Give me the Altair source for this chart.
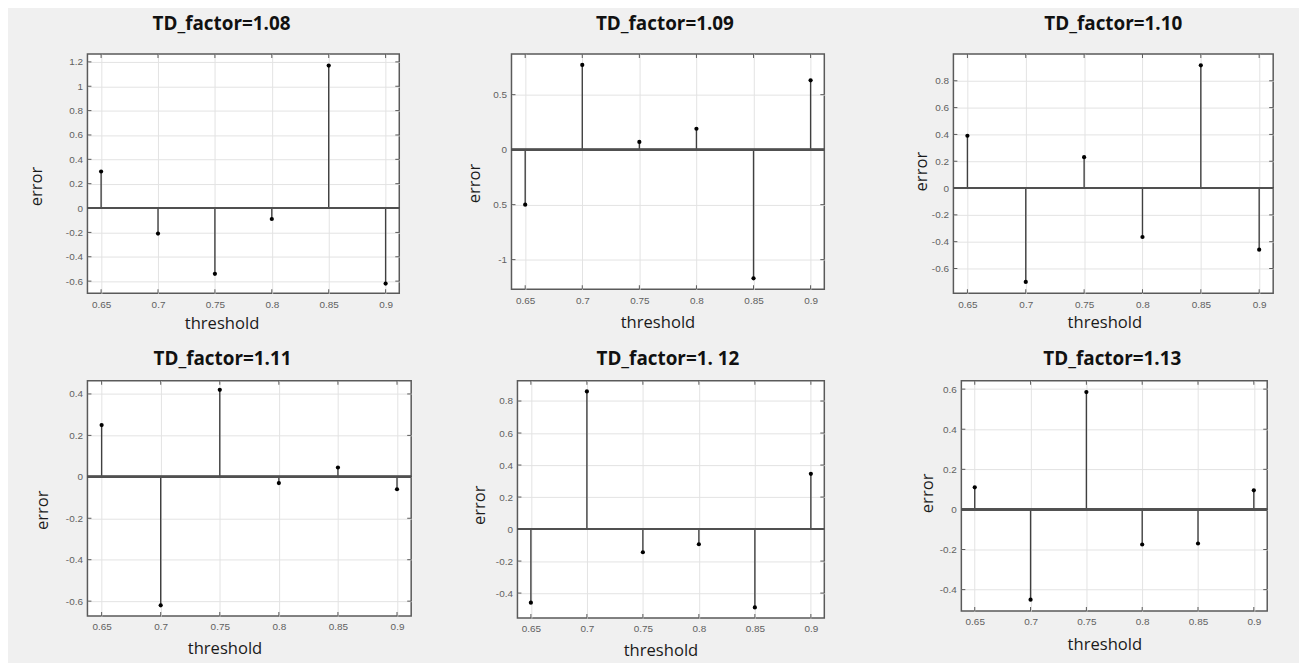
import altair as alt
import pandas as pd

# ---------------- data ----------------
thresholds = [0.65, 0.70, 0.75, 0.80, 0.85, 0.90]
x_tick_values = [0.65, 0.7, 0.75, 0.8, 0.85, 0.9]
x_tick_labels = ["0.65", "0.7", "0.75", "0.8", "0.85", "0.9"]
x_domain = [0.638, 0.912]

titles = ["TD_factor=1.08", "TD_factor=1.09", "TD_factor=1.10",
          "TD_factor=1.11", "TD_factor=1. 12", "TD_factor=1.13"]

err_108 = [0.30, -0.21, -0.54, -0.09, 1.17, -0.62]
err_109 = [-0.50, 0.77, 0.07, 0.19, -1.17, 0.63]
err_110 = [0.39, -0.70, 0.23, -0.365, 0.915, -0.46]
err_111 = [0.25, -0.62, 0.42, -0.03, 0.045, -0.06]
err_112 = [-0.46, 0.86, -0.145, -0.095, -0.49, 0.345]
err_113 = [0.11, -0.45, 0.585, -0.175, -0.17, 0.095]

y_ticks_108 = [-0.6, -0.4, -0.2, 0, 0.2, 0.4, 0.6, 0.8, 1, 1.2]
y_labels_108 = ["-0.6", "-0.4", "-0.2", "0", "0.2", "0.4", "0.6", "0.8", "1", "1.2"]
y_ticks_109 = [-1, -0.5, 0, 0.5]
y_labels_109 = ["-1", "0.5", "0", "0.5"]
y_ticks_110 = [-0.6, -0.4, -0.2, 0, 0.2, 0.4, 0.6, 0.8]
y_labels_110 = ["-0.6", "-0.4", "-0.2", "0", "0.2", "0.4", "0.6", "0.8"]
y_ticks_111 = [-0.6, -0.4, -0.2, 0, 0.2, 0.4]
y_labels_111 = ["-0.6", "-0.4", "-0.2", "0", "0.2", "0.4"]
y_ticks_112 = [-0.4, -0.2, 0, 0.2, 0.4, 0.6, 0.8]
y_labels_112 = ["-0.4", "-0.2", "0", "0.2", "0.4", "0.6", "0.8"]
y_ticks_113 = [-0.4, -0.2, 0, 0.2, 0.4, 0.6]
y_labels_113 = ["-0.4", "-0.2", "0", "0.2", "0.4", "0.6"]

y_domain_108 = [-0.70, 1.265]
y_domain_109 = [-1.27, 0.87]
y_domain_110 = [-0.785, 1.0]
y_domain_111 = [-0.672, 0.464]
y_domain_112 = [-0.556, 0.927]
y_domain_113 = [-0.507, 0.642]

# ---------------- layout (pixels) ----------------
layouts = [
    dict(w=314, h=241, l=79, r=348, b=296, tdx=-22, toff=5, xtx=135, xty=30, ytx=-51, yty=133),
    dict(w=315, h=237, l=77, r=363, b=296, tdx=-3, toff=5, xtx=147, xty=33, ytx=-37, yty=130),
    dict(w=322, h=241, l=80, r=347, b=296, tdx=0, toff=5, xtx=152, xty=29, ytx=-32, yty=118),
    dict(w=326, h=237, l=79, r=348, b=283, tdx=-27, toff=-3, xtx=138, xty=33, ytx=-45, yty=130),
    dict(w=309, h=239, l=83, r=357, b=283, tdx=-3, toff=-3, xtx=144, xty=33, ytx=-38, yty=125),
    dict(w=308, h=232, l=88, r=339, b=283, tdx=-2, toff=-3, xtx=144, xty=34, ytx=-34, yty=113),
]

LABEL_FONT = "Liberation Sans"
TITLE_FONT = "Open Sans"
TICK_LEN = 4


def label_expr(values, labels):
    expr = "''"
    for v, lab in reversed(list(zip(values, labels))):
        expr = f"abs(datum.value - ({v})) < 1e-9 ? '{lab}' : ({expr})"
    return expr


def panel(title, errs, ydom, yvals, ylabs, L):
    df = pd.DataFrame({"threshold": thresholds, "error": errs})
    x_axis = alt.Axis(
        values=x_tick_values, labelExpr=label_expr(x_tick_values, x_tick_labels), tickCount=50,
        grid=True, gridColor="#e3e3e3", gridWidth=1, domain=False, ticks=False, tickSize=0,
        labelFont=LABEL_FONT, labelFontSize=10, labelColor="#606060", labelPadding=6,
        labelFlush=False, labelOverlap=False,
        title="threshold", titleFont=TITLE_FONT, titleFontSize=16.7, titleFontWeight="normal",
        titleColor="#1a1a1a", titleX=L["xtx"], titleY=L["xty"], titleBaseline="middle",
        titleAlign="center", titleAngle=0,
    )
    y_axis = alt.Axis(
        values=yvals, labelExpr=label_expr(yvals, ylabs), tickCount=50,
        grid=True, gridColor="#e3e3e3", gridWidth=1, domain=False, ticks=False, tickSize=0,
        labelFont=LABEL_FONT, labelFontSize=10, labelColor="#606060", labelPadding=5,
        labelFlush=False, labelOverlap=False,
        title="error", titleFont=TITLE_FONT, titleFontSize=16.7, titleFontWeight="normal",
        titleColor="#1a1a1a", titleX=L["ytx"], titleY=L["yty"], titleBaseline="middle",
        titleAlign="center", titleAngle=270,
    )
    x_enc = alt.X("threshold:Q", scale=alt.Scale(domain=x_domain, nice=False, zero=False), axis=x_axis)
    y_enc = alt.Y("error:Q", scale=alt.Scale(domain=ydom, nice=False, zero=False), axis=y_axis)

    base = alt.Chart(df)
    extent = base.mark_rule(opacity=0, strokeWidth=0).encode(
        x=alt.value(-L["l"]), x2=alt.value(L["r"]),
        y=alt.value(0), y2=alt.value(L["b"]),
    )
    xt = alt.Chart(pd.DataFrame({"threshold": x_tick_values}))
    yt = alt.Chart(pd.DataFrame({"error": yvals}))
    tick_style = dict(size=TICK_LEN, thickness=1, color="#5a5a5a", opacity=1)
    bottom_ticks = xt.mark_tick(**tick_style).encode(x=x_enc, y=alt.value(L["h"] - TICK_LEN / 2))
    top_ticks = xt.mark_tick(**tick_style).encode(x=x_enc, y=alt.value(TICK_LEN / 2))
    left_ticks = yt.mark_tick(**tick_style).encode(y=y_enc, x=alt.value(TICK_LEN / 2))
    right_ticks = yt.mark_tick(**tick_style).encode(y=y_enc, x=alt.value(L["w"] - TICK_LEN / 2))

    stems = base.mark_rule(color="#404040", strokeWidth=1.4).encode(
        x=x_enc, y=y_enc, y2=alt.datum(0)
    )
    zero = base.mark_rule(color="#505050", strokeWidth=2).encode(y=alt.datum(0))
    points = base.mark_circle(size=18, color="black", opacity=1).encode(
        x="threshold:Q", y="error:Q"
    )
    return alt.layer(
        extent, stems, bottom_ticks, top_ticks, left_ticks, right_ticks, zero, points
    ).properties(
        width=L["w"], height=L["h"],
        title=alt.Title(
            text=title, frame="group", anchor="middle", offset=L["toff"], dx=L["tdx"],
            baseline="alphabetic", font=TITLE_FONT, fontSize=19, fontWeight="bold",
            color="#111111",
        ),
    )


errs = [err_108, err_109, err_110, err_111, err_112, err_113]
ydoms = [y_domain_108, y_domain_109, y_domain_110, y_domain_111, y_domain_112, y_domain_113]
yticks = [y_ticks_108, y_ticks_109, y_ticks_110, y_ticks_111, y_ticks_112, y_ticks_113]
ylabels = [y_labels_108, y_labels_109, y_labels_110, y_labels_111, y_labels_112, y_labels_113]

panels = [panel(titles[i], errs[i], ydoms[i], yticks[i], ylabels[i], layouts[i]) for i in range(6)]

row1 = alt.hconcat(panels[0], panels[1], panels[2], spacing=0)
row2 = alt.hconcat(panels[3], panels[4], panels[5], spacing=0)

chart = alt.vconcat(row1, row2, spacing=0).properties(
    padding={"top": 4, "left": 0, "right": 0, "bottom": 0}, background="#f0f0f0"
).configure_view(
    fill="white", stroke="#5a5a5a", strokeWidth=1.5
)

chart.save("out.html", embed_options={"renderer": "svg", "actions": False})
